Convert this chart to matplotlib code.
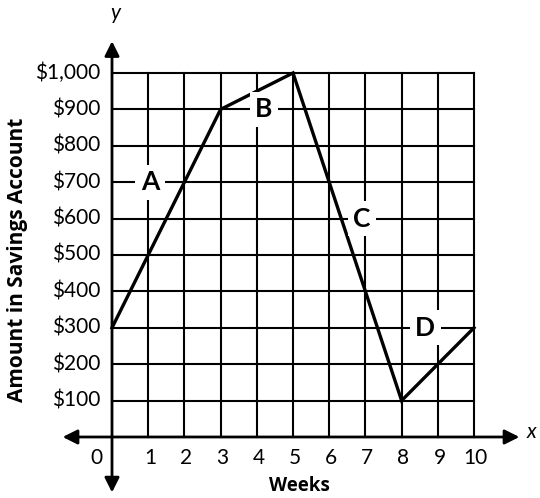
import matplotlib
matplotlib.use("Agg")
import matplotlib.pyplot as plt

# Data
weeks = [0, 3, 5, 8, 10]
amounts = [300, 900, 1000, 100, 300]
x_ticks = [0, 1, 2, 3, 4, 5, 6, 7, 8, 9, 10]
y_ticks = [100, 200, 300, 400, 500, 600, 700, 800, 900, 1000]
y_tick_labels = ["$100", "$200", "$300", "$400", "$500", "$600", "$700", "$800", "$900", "$1,000"]
seg_labels = ["A", "B", "C", "D"]
seg_label_pos = [(1.05, 700), (4.2, 900), (6.9, 600), (8.65, 300)]

plt.rcParams['font.family'] = ['Lato', 'DejaVu Sans']

fig = plt.figure(figsize=(5.4, 4.98), dpi=100)
ax = fig.add_axes([0, 0, 1, 1])
ax.set_xlim(-3.094, 11.823)
ax.set_ylim(-167.6, 1200.5)
ax.axis('off')

# grid
for x in x_ticks[1:]:
    ax.plot([x, x], [0, 1000], color='black', lw=1.5, zorder=1)
for y in y_ticks:
    ax.plot([0, 10], [y, y], color='black', lw=1.5, zorder=1)

# axes with arrows
ax.annotate('', xy=(-1.44, 0), xytext=(11.33, 0),
            arrowprops=dict(arrowstyle='<|-|>', color='black', lw=2, mutation_scale=22))
ax.annotate('', xy=(0, 1095), xytext=(0, -160),
            arrowprops=dict(arrowstyle='<|-|>', color='black', lw=2, mutation_scale=22))

# data line
ax.plot(weeks, amounts, color='black', lw=2.4, zorder=3, solid_joinstyle='miter')

# segment labels
for lab, (lx, ly) in zip(seg_labels, seg_label_pos):
    ax.text(lx, ly, lab, ha='center', va='center', fontsize=19, fontweight='bold',
            zorder=4, bbox=dict(facecolor='white', edgecolor='none', pad=4))

# tick labels
for y, lab in zip(y_ticks, y_tick_labels):
    ax.text(-0.33, y, lab, ha='right', va='center', fontsize=15)
for x in x_ticks:
    xp = -0.42 if x == 0 else x + 0.05
    ax.text(xp, -57, str(x), ha='center', va='center', fontsize=15)

# axis titles
ax.text(5.19, -134, "Weeks", ha='center', va='center', fontsize=13.5,
        fontweight='bold', family=['Open Sans', 'DejaVu Sans'])
ax.text(-2.6, 486, "Amount in Savings Account", ha='center', va='center',
        fontsize=15, fontweight='bold', rotation=90, family=['Open Sans', 'DejaVu Sans'])
ax.text(0.1, 1165, "y", ha='center', va='center', fontsize=15, style='italic')
ax.text(11.6, 15, "x", ha='center', va='center', fontsize=15, style='italic')

fig.savefig("out.png", dpi=100)
